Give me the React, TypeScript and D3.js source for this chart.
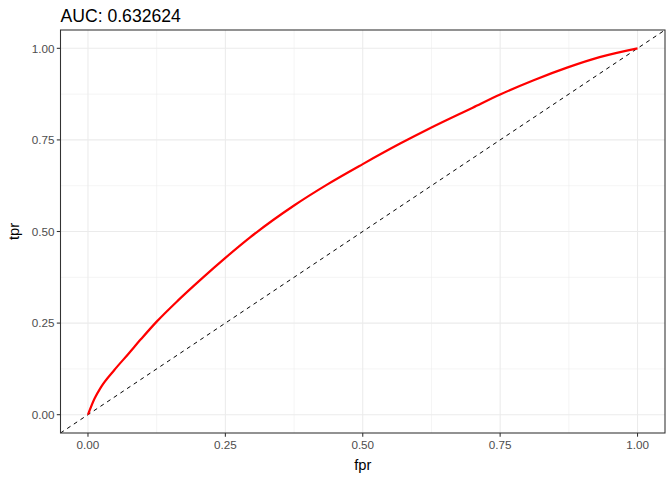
import React from "react";
import * as d3 from "d3";

const title = "AUC: 0.632624";
const fpr = [0, 0.012, 0.024, 0.048, 0.073, 0.097, 0.125, 0.164, 0.206, 0.25, 0.295, 0.375, 0.435, 0.5, 0.568, 0.625, 0.7, 0.75, 0.811, 0.873, 0.931, 1.0];
const tpr = [0, 0.044, 0.076, 0.122, 0.165, 0.207, 0.254, 0.312, 0.37, 0.428, 0.484, 0.571, 0.628, 0.684, 0.74, 0.784, 0.838, 0.874, 0.913, 0.948, 0.976, 1.0];
const ticks = [0, 0.25, 0.5, 0.75, 1.0];
const minorTicks = [0.125, 0.375, 0.625, 0.875];

const W = 672, H = 480;
const left = 60.5, right = 665, top = 30, bottom = 433;

export default function App() {
  const x = d3.scaleLinear().domain([-0.05, 1.05]).range([left, right]);
  const y = d3.scaleLinear().domain([-0.05, 1.05]).range([bottom, top]);
  const pts: [number, number][] = fpr.map((f, i) => [f, tpr[i]]);
  const line = d3.line<[number, number]>().x(d => x(d[0])).y(d => y(d[1])).curve(d3.curveMonotoneX);
  const font = "Arial, 'Liberation Sans', sans-serif";
  return (
    <svg width={W} height={H} style={{ position: "absolute", left: 0, top: 0 }} fontFamily={font}>
      <rect x={0} y={0} width={W} height={H} fill="white" />
      <defs>
        <clipPath id="panel">
          <rect x={left} y={top} width={right - left} height={bottom - top} />
        </clipPath>
      </defs>
      {minorTicks.map(t => (
        <g key={"m" + t}>
          <line x1={x(t)} x2={x(t)} y1={top} y2={bottom} stroke="#EBEBEB" strokeWidth={0.55} />
          <line x1={left} x2={right} y1={y(t)} y2={y(t)} stroke="#EBEBEB" strokeWidth={0.55} />
        </g>
      ))}
      {ticks.map(t => (
        <g key={"M" + t}>
          <line x1={x(t)} x2={x(t)} y1={top} y2={bottom} stroke="#EBEBEB" strokeWidth={1.07} />
          <line x1={left} x2={right} y1={y(t)} y2={y(t)} stroke="#EBEBEB" strokeWidth={1.07} />
        </g>
      ))}
      <g clipPath="url(#panel)">
        <line x1={x(-0.05)} y1={y(-0.05)} x2={x(1.05)} y2={y(1.05)} stroke="black" strokeWidth={1} strokeDasharray="4 4" />
        <path d={line(pts) || ""} fill="none" stroke="#FF0000" strokeWidth={2.2} />
      </g>
      <rect x={left} y={top} width={right - left} height={bottom - top} fill="none" stroke="#333333" strokeWidth={1.07} />
      {ticks.map(t => (
        <g key={"tx" + t}>
          <line x1={x(t)} x2={x(t)} y1={bottom} y2={bottom + 3.7} stroke="#333333" strokeWidth={1.07} />
          <text x={x(t)} y={bottom + 15.5} textAnchor="middle" fontSize={11.7} fill="#4D4D4D">{t.toFixed(2)}</text>
          <line x1={left - 3.7} x2={left} y1={y(t)} y2={y(t)} stroke="#333333" strokeWidth={1.07} />
          <text x={left - 6} y={y(t) + 4.2} textAnchor="end" fontSize={11.7} fill="#4D4D4D">{t.toFixed(2)}</text>
        </g>
      ))}
      <text x={(left + right) / 2} y={470} textAnchor="middle" fontSize={14.7} fill="black">fpr</text>
      <text transform={`translate(19,${(top + bottom) / 2}) rotate(-90)`} textAnchor="middle" fontSize={14.7} fill="black">tpr</text>
      <text x={left} y={22} fontSize={17.6} fill="black">{title}</text>
    </svg>
  );
}
